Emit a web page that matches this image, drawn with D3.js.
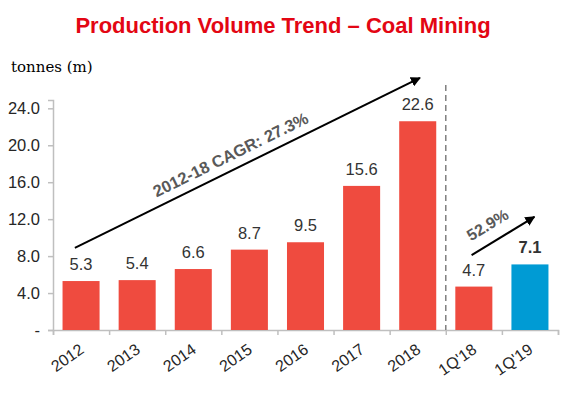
<!DOCTYPE html>
<html>
<head>
    <meta charset="UTF-8"/>
    <style>
        body {
            margin: 0;
            background: #fff;
            font-family: Arial, "Liberation Sans", Helvetica, sans-serif;
        }
        svg { display: block; }
        svg text.unit { font-family: "DejaVu Serif", "Liberation Serif", serif; }
    </style>
</head>
<body>
<script src="https://d3js.org/d3.v7.min.js"></script>
<div id="chart"></div>
<script>

    // chart data
    var categories = ["2012", "2013", "2014", "2015", "2016", "2017", "2018", "1Q'18", "1Q'19"];
    var volumes = [5.3, 5.4, 6.6, 8.7, 9.5, 15.6, 22.6, 4.7, 7.1];
    var yTicks = [0, 4, 8, 12, 16, 20, 24];

    // growth arrows, in (category index, value) units
    var trendArrow = {from: [0.39, 8.9], to: [6.54, 27.3], label: "2012-18 CAGR: 27.3%", at: 0.47};
    var quarterArrow = {from: [7.46, 8.1], to: [8.58, 12.25], label: "52.9%", at: 0.4};

    var width = 570, height = 393;
    var margin = {top: 100, right: 12, bottom: 63, left: 53};

    var svg = d3.select("#chart")
        .append("svg")
        .attr("width", width)
        .attr("height", height);

    svg.append("defs").append("marker")
        .attr("id", "head")
        .attr("viewBox", "0 0 10 10")
        .attr("refX", 9)
        .attr("refY", 5)
        .attr("markerWidth", 10)
        .attr("markerHeight", 10)
        .attr("markerUnits", "userSpaceOnUse")
        .attr("orient", "auto")
        .append("path")
        .attr("d", "M0,0 L10,5 L0,10 Z")
        .attr("fill", "#000");

    var x = d3.scaleBand()
        .domain(categories)
        .range([margin.left, width - margin.right])
        .paddingInner(0.34)
        .paddingOuter(0.17);

    // continuous position across the categories (for boundaries and arrows)
    var xi = d3.scaleLinear()
        .domain([0, categories.length])
        .range([margin.left, width - margin.right]);

    var y = d3.scaleLinear()
        .domain([0, 24.9])
        .range([height - margin.bottom, margin.top]);

    // title
    svg.append("text")
        .attr("x", 283)
        .attr("y", 33)
        .attr("text-anchor", "middle")
        .style("font-size", "22px")
        .style("font-weight", "bold")
        .attr("fill", "#e30613")
        .text("Production Volume Trend \u2013 Coal Mining");

    svg.append("text")
        .attr("class", "unit")
        .attr("x", 11)
        .attr("y", 72)
        .style("font-size", "15px")
        .attr("fill", "#000")
        .text("tonnes (m)");

    // y axis
    var yAxis = svg.append("g")
        .attr("transform", "translate(" + margin.left + ",0)")
        .call(d3.axisLeft(y)
            .tickValues(yTicks)
            .tickSize(5)
            .tickPadding(8)
            .tickFormat(function(d){ return d === 0 ? "-" : d.toFixed(1); }));
    yAxis.select(".domain").attr("stroke", "#bfbfbf").attr("stroke-width", 1.5);
    yAxis.selectAll(".tick line").attr("stroke", "#bfbfbf").attr("stroke-width", 1.5);
    yAxis.selectAll(".tick text")
        .style("font-size", "16.5px")
        .style("font-family", "Arial, 'Liberation Sans', sans-serif")
        .attr("fill", "#262626");

    // x axis with ticks on the category boundaries
    var xAxis = svg.append("g")
        .attr("transform", "translate(0," + y(0) + ")")
        .call(d3.axisBottom(xi)
            .tickValues(d3.range(categories.length + 1))
            .tickSize(5)
            .tickFormat(""));
    xAxis.select(".domain").attr("stroke", "#bfbfbf").attr("stroke-width", 1.5);
    xAxis.selectAll(".tick line").attr("stroke", "#bfbfbf").attr("stroke-width", 1.5);

    svg.append("g")
        .selectAll("text")
        .data(categories)
        .enter()
        .append("text")
        .attr("transform", function(d){
            return "translate(" + (x(d) + x.bandwidth() / 2 + 4) + "," + (y(0) + 22) + ") rotate(-35)";
        })
        .attr("text-anchor", "end")
        .style("font-size", "16px")
        .attr("fill", "#262626")
        .text(function(d){ return d; });

    // separator between annual and quarterly figures
    svg.append("line")
        .attr("x1", xi(7))
        .attr("x2", xi(7))
        .attr("y1", 85)
        .attr("y2", y(0))
        .attr("stroke", "#7f7f7f")
        .attr("stroke-width", 1.5)
        .attr("stroke-dasharray", "6,4");

    // bars
    svg.selectAll("rect.bar")
        .data(categories)
        .enter()
        .append("rect")
        .attr("class", "bar")
        .attr("x", function(d){ return x(d); })
        .attr("y", function(d, i){ return y(volumes[i]); })
        .attr("width", x.bandwidth())
        .attr("height", function(d, i){ return y(0) - y(volumes[i]); })
        .attr("fill", function(d, i){ return i === categories.length - 1 ? "#009bd4" : "#ef4b3f"; });

    // value labels
    svg.selectAll("text.val")
        .data(categories)
        .enter()
        .append("text")
        .attr("class", "val")
        .attr("x", function(d){ return x(d) + x.bandwidth() / 2; })
        .attr("y", function(d, i){ return y(volumes[i]) - 11; })
        .attr("text-anchor", "middle")
        .style("font-size", "16.5px")
        .style("font-weight", function(d, i){ return i === categories.length - 1 ? "bold" : "normal"; })
        .attr("fill", "#333")
        .text(function(d, i){ return volumes[i].toFixed(1); });

    // growth arrows with rotated labels
    function drawArrow(a, size, gap) {
        var x1 = xi(a.from[0]), y1 = y(a.from[1]);
        var x2 = xi(a.to[0]), y2 = y(a.to[1]);
        svg.append("line")
            .attr("x1", x1).attr("y1", y1)
            .attr("x2", x2).attr("y2", y2)
            .attr("stroke", "#000")
            .attr("stroke-width", 2)
            .attr("marker-end", "url(#head)");
        var ang = Math.atan2(y2 - y1, x2 - x1) * 180 / Math.PI;
        var px = x1 + (x2 - x1) * a.at, py = y1 + (y2 - y1) * a.at;
        svg.append("text")
            .attr("transform", "translate(" + px + "," + py + ") rotate(" + ang + ")")
            .attr("y", -gap)
            .attr("text-anchor", "middle")
            .style("font-size", size)
            .style("font-weight", "bold")
            .attr("fill", "#595959")
            .text(a.label);
    }
    drawArrow(trendArrow, "16.5px", 9);
    drawArrow(quarterArrow, "16px", 12);

</script>
</body>
</html>
